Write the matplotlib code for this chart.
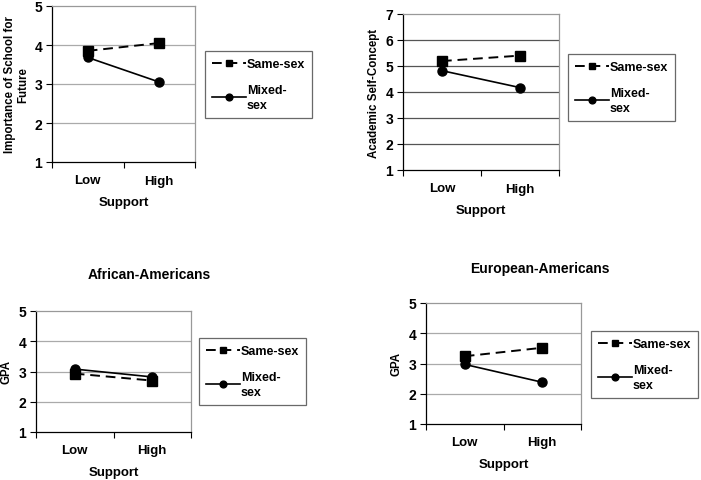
import matplotlib
matplotlib.use("Agg")
import matplotlib.pyplot as plt

plt.rcParams['font.family'] = ['Liberation Sans', 'DejaVu Sans']
plt.rcParams['font.weight'] = 'bold'
plt.rcParams['axes.labelweight'] = 'bold'

categories = ["Low", "High"]
series_labels = ["Same-sex", "Mixed-\nsex"]

# Panel values
school_same = [3.85, 4.05]
school_mixed = [3.68, 3.05]
selfconcept_same = [5.19, 5.40]
selfconcept_mixed = [4.82, 4.17]
gpa_afr_same = [2.93, 2.70]
gpa_afr_mixed = [3.08, 2.82]
gpa_eur_same = [3.24, 3.52]
gpa_eur_mixed = [2.97, 2.38]

W, H = 701, 481
fig = plt.figure(figsize=(W / 100, H / 100), dpi=100)


def px_axes(left, right, top, bottom):
    return fig.add_axes([left / W, 1 - bottom / H, (right - left) / W, (bottom - top) / H])


def panel(ax, same, mixed, ymin, ymax, ylabel, gridcolor, legend_box, title=None, title_xy=None):
    x = list(range(len(categories)))
    ax.plot(x, mixed, color='black', lw=1.2, marker='o', ms=6.5, label=series_labels[1], zorder=3)
    ax.plot(x, same, color='black', lw=1.4, ls=(0, (5, 3)), marker='s', ms=6.5, label=series_labels[0], zorder=4)
    ax.set_xlim(-0.5, 1.5)
    ax.set_ylim(ymin, ymax)
    ax.set_yticks(range(ymin, ymax + 1))
    ax.set_xticks(x)
    ax.set_xticklabels(categories, fontweight='bold')
    ax.set_xticks([-0.5, 0.5, 1.5], minor=True)
    ax.tick_params(axis='x', which='major', length=0, pad=9, labelsize=9.5)
    ax.tick_params(axis='x', which='minor', length=4, width=0.8, direction='out')
    ax.tick_params(axis='y', length=4, width=0.8, direction='out', pad=3, labelsize=10)
    for lab in ax.get_yticklabels():
        lab.set_fontweight('bold')
    for v in range(ymin + 1, ymax):
        ax.axhline(v, color=gridcolor, lw=0.9, zorder=1)
    ax.spines['top'].set_color('#999999')
    ax.spines['right'].set_color('#999999')
    ax.spines['left'].set_color('black')
    ax.spines['bottom'].set_color('black')
    for s in ax.spines.values():
        s.set_linewidth(0.9)
    ax.set_xlabel("Support", fontsize=9.5, labelpad=7, fontweight='bold')
    ax.set_ylabel(ylabel, fontsize=8.3, labelpad=4, fontweight='bold', linespacing=1.15)
    handles, labels = ax.get_legend_handles_labels()
    bx, by = legend_box
    leg = ax.legend(handles[::-1], labels[::-1], loc='upper left',
                    bbox_to_anchor=(bx / W, 1 - by / H), bbox_transform=fig.transFigure,
                    frameon=True, fancybox=False, edgecolor='#444444',
                    handlelength=2.7, handletextpad=0.1, labelspacing=1.1,
                    borderpad=0.55, borderaxespad=0, markerscale=0.75,
                    prop={'size': 9, 'weight': 'bold'})
    for t in leg.get_texts():
        t.set_linespacing(1.35)
    leg.get_frame().set_linewidth(0.9)
    if title:
        fig.text(title_xy[0] / W, 1 - title_xy[1] / H, title, ha='center', va='center',
                 fontsize=10, fontweight='bold')


ax1 = px_axes(52, 195, 7, 163)
panel(ax1, school_same, school_mixed, 1, 5, "Importance of School for\nFuture", '#aaaaaa', (205, 52))

ax2 = px_axes(403, 559, 15, 171)
panel(ax2, selfconcept_same, selfconcept_mixed, 1, 7, "Academic Self-Concept", '#555555', (568, 55))

ax3 = px_axes(36, 191, 312, 433)
panel(ax3, gpa_afr_same, gpa_afr_mixed, 1, 5, "GPA", '#aaaaaa', (199, 339),
      title="African-Americans", title_xy=(149, 275))

ax4 = px_axes(426, 581, 304, 425)
panel(ax4, gpa_eur_same, gpa_eur_mixed, 1, 5, "GPA", '#aaaaaa', (591, 332),
      title="European-Americans", title_xy=(540, 269))

fig.savefig("out.png", dpi=100)
